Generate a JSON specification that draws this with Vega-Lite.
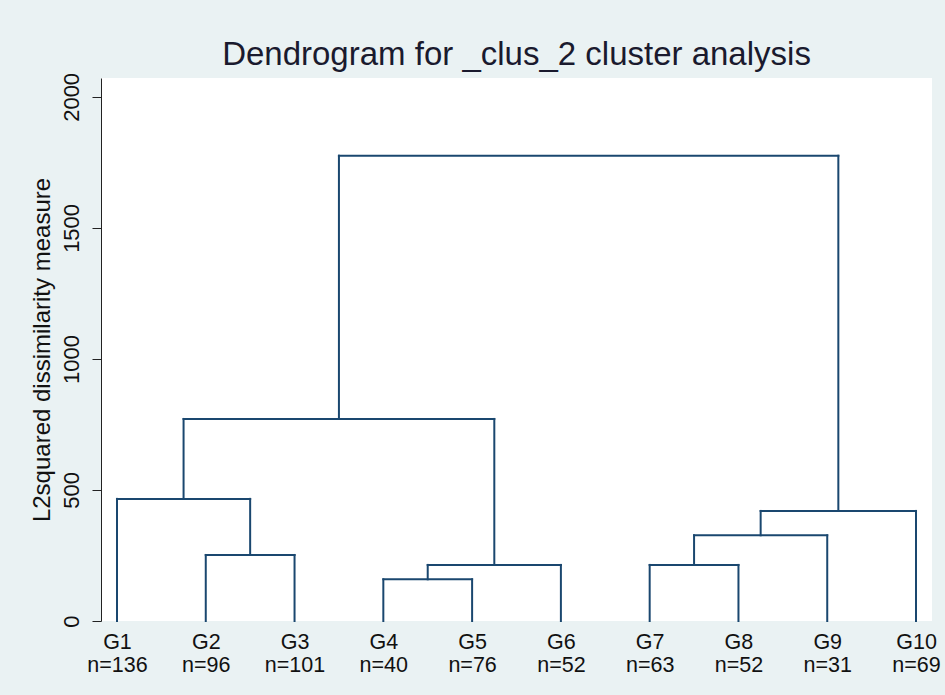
{
  "$schema": "https://vega.github.io/schema/vega-lite/v6.json",
  "autosize": {"type": "none"},
  "width": 831,
  "height": 543,
  "padding": {"left": 101, "top": 78, "right": 13, "bottom": 74},
  "background": "#EAF2F3",
  "config": {
    "font": "Liberation Sans",
    "view": {"fill": "white", "stroke": null}
  },
  "title": {
    "text": "Dendrogram for _clus_2 cluster analysis",
    "fontSize": 33,
    "fontWeight": "normal",
    "color": "#1a1a2e",
    "anchor": "middle",
    "baseline": "alphabetic",
    "offset": 12,
    "dy": 38
  },
  "data": {
    "values": [
      {"x": 1, "x2": 1, "y": 0, "y2": 466},
      {"x": 2, "x2": 2, "y": 0, "y2": 252},
      {"x": 3, "x2": 3, "y": 0, "y2": 252},
      {"x": 4, "x2": 4, "y": 0, "y2": 159},
      {"x": 5, "x2": 5, "y": 0, "y2": 159},
      {"x": 6, "x2": 6, "y": 0, "y2": 214},
      {"x": 7, "x2": 7, "y": 0, "y2": 214},
      {"x": 8, "x2": 8, "y": 0, "y2": 214},
      {"x": 9, "x2": 9, "y": 0, "y2": 327},
      {"x": 10, "x2": 10, "y": 0, "y2": 420},
      {"x": 2.5, "x2": 2.5, "y": 252, "y2": 466},
      {"x": 4.5, "x2": 4.5, "y": 159, "y2": 214},
      {"x": 1.75, "x2": 1.75, "y": 466, "y2": 771},
      {"x": 5.25, "x2": 5.25, "y": 214, "y2": 771},
      {"x": 3.5, "x2": 3.5, "y": 771, "y2": 1775},
      {"x": 7.5, "x2": 7.5, "y": 214, "y2": 327},
      {"x": 8.25, "x2": 8.25, "y": 327, "y2": 420},
      {"x": 9.125, "x2": 9.125, "y": 420, "y2": 1775},
      {"x": 2, "x2": 3, "y": 252, "y2": 252},
      {"x": 1, "x2": 2.5, "y": 466, "y2": 466},
      {"x": 4, "x2": 5, "y": 159, "y2": 159},
      {"x": 4.5, "x2": 6, "y": 214, "y2": 214},
      {"x": 1.75, "x2": 5.25, "y": 771, "y2": 771},
      {"x": 7, "x2": 8, "y": 214, "y2": 214},
      {"x": 7.5, "x2": 9, "y": 327, "y2": 327},
      {"x": 8.25, "x2": 10, "y": 420, "y2": 420},
      {"x": 3.5, "x2": 9.125, "y": 1775, "y2": 1775}
    ]
  },
  "mark": {"type": "rule", "color": "#1A476F", "strokeWidth": 2, "strokeCap": "square"},
  "encoding": {
    "x": {
      "field": "x",
      "type": "quantitative",
      "scale": {"domain": [0.82, 10.18], "nice": false, "zero": false},
      "axis": {
        "values": [1, 2, 3, 4, 5, 6, 7, 8, 9, 10],
        "labelExpr": "['G' + datum.value, ['n=136','n=96','n=101','n=40','n=76','n=52','n=63','n=52','n=31','n=69'][datum.value - 1]]",
        "domain": false,
        "ticks": false,
        "grid": false,
        "title": null,
        "labelFontSize": 21.5,
        "labelLineHeight": 23,
        "labelColor": "#111111",
        "labelPadding": 10,
        "labelFlush": false,
        "labelOverlap": false
      }
    },
    "x2": {"field": "x2"},
    "y": {
      "field": "y",
      "type": "quantitative",
      "scale": {"domain": [0, 2072], "nice": false},
      "axis": {
        "values": [0, 500, 1000, 1500, 2000],
        "format": "d",
        "grid": false,
        "domainColor": "#222222",
        "tickColor": "#222222",
        "tickSize": 9,
        "labelAngle": -90,
        "labelAlign": "center",
        "labelBaseline": "bottom",
        "labelFontSize": 22,
        "labelColor": "#111111",
        "labelPadding": 9,
        "labelFlush": false,
        "title": "L2squared dissimilarity measure",
        "titleFontSize": 24,
        "titleFontWeight": "normal",
        "titleColor": "#111111",
        "titlePadding": 6
      }
    },
    "y2": {"field": "y2"}
  }
}
